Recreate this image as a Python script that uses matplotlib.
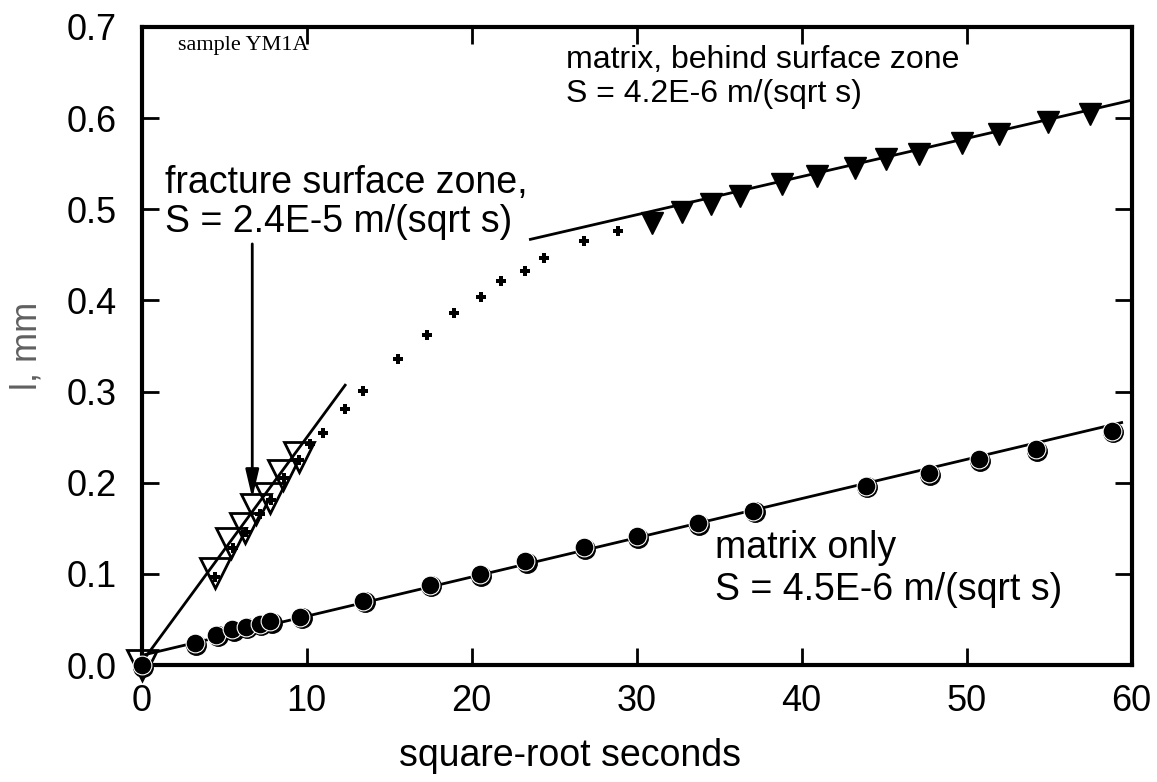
import matplotlib
matplotlib.use("Agg")
import matplotlib.pyplot as plt
import matplotlib.transforms as mtrans

plt.rcParams['font.family'] = ['Liberation Sans', 'DejaVu Sans']

# matrix only (filled circles)
circ_x = [0.0, 3.22, 4.53, 5.48, 6.3, 7.15, 7.8, 9.6, 13.43, 17.46, 20.5, 23.26, 26.8, 30.0, 33.7, 37.06, 43.9, 47.7, 50.75, 54.2, 58.8]
circ_y = [0.0, 0.024, 0.033, 0.039, 0.042, 0.045, 0.048, 0.053, 0.0706, 0.0878, 0.0995, 0.114, 0.129, 0.141, 0.1555, 0.169, 0.1965, 0.2104, 0.2258, 0.2368, 0.257]

# fracture surface zone (open down-triangles)
open_x = [0.0, 4.43, 5.4, 6.24, 6.95, 7.75, 8.56, 9.56]
open_y = [0.0, 0.1006, 0.1335, 0.150, 0.171, 0.183, 0.2085, 0.2287]

# matrix behind surface zone (filled down-triangles)
fill_x = [30.95, 32.73, 34.52, 36.27, 38.79, 40.93, 43.24, 45.13, 47.12, 49.75, 51.96, 54.96, 57.5]
fill_y = [0.4847, 0.497, 0.5057, 0.5145, 0.528, 0.536, 0.5458, 0.5553, 0.561, 0.573, 0.583, 0.5954, 0.605]

# all measurements (small plus)
plus_x = [0.0, 4.43, 5.54, 6.34, 7.15, 7.85, 8.6, 9.56, 10.23, 11.0, 12.33, 13.43, 15.55, 17.3, 18.9, 20.54,
          21.79, 23.26, 24.4, 26.83, 28.9] + fill_x
plus_y = [0.0, 0.097, 0.128, 0.146, 0.166, 0.181, 0.205, 0.225, 0.2426, 0.254, 0.2807, 0.301, 0.336, 0.3626,
          0.3857, 0.4036, 0.4208, 0.4328, 0.4464, 0.4647, 0.476] + fill_y

# fit lines (endpoints)
fit_frac_x = [0.0, 12.33]
fit_frac_y = [0.003, 0.307]
fit_behind_x = [23.56, 59.85]
fit_behind_y = [0.467, 0.619]
fit_matrix_x = [0.1, 59.4]
fit_matrix_y = [0.011, 0.266]

xticks = [0, 10, 20, 30, 40, 50, 60]
yticks = [0.0, 0.1, 0.2, 0.3, 0.4, 0.5, 0.6, 0.7]

fig = plt.figure(figsize=(11.57, 7.82), dpi=100)
ax = fig.add_axes([0.1225, 0.1496, 0.978 - 0.1225, 0.9655 - 0.1496])
ax.set_xlim(0, 60)
ax.set_ylim(0, 0.7)

lw_fit = 2.0
ax.plot(fit_frac_x, fit_frac_y, color='black', lw=lw_fit, zorder=2)
ax.plot(fit_behind_x, fit_behind_y, color='black', lw=lw_fit, zorder=2)
ax.plot(fit_matrix_x, fit_matrix_y, color='black', lw=lw_fit, zorder=2)

# plus markers
ax.plot(plus_x, plus_y, ls='none', marker='P', ms=6.5, color='black', mew=0, zorder=3, clip_on=False)

# open triangles
ax.plot(open_x, open_y, ls='none', marker='v', ms=21, mfc='none', mec='black', mew=2.0, zorder=4, clip_on=False)

# filled circles with shadow effect
shadow = mtrans.offset_copy(ax.transData, fig=fig, x=1.5, y=-1.5, units='dots')
ax.plot(circ_x, circ_y, ls='none', marker='o', ms=14, color='black', transform=shadow, zorder=5, clip_on=False)
ax.plot(circ_x, circ_y, ls='none', marker='o', ms=13.5, mfc='black', mec='white', mew=0.8, zorder=6, clip_on=False)

# filled triangles
ax.plot(fill_x, fill_y, ls='none', marker='v', ms=15.5, color='black', zorder=5, clip_on=False)

# arrow
ax.annotate('', xy=(6.7, 0.183), xytext=(6.7, 0.462),
            arrowprops=dict(arrowstyle='-|>,head_length=1.7,head_width=0.4', color='black', lw=2.0,
                            shrinkA=0, shrinkB=0))

fs = 26
fa = 27
ft = 23
ax.text(2.19, 0.68, 'sample YM1A', family=['Liberation Serif'], fontsize=16, va='center', ha='left')
ax.text(25.7, 0.664, 'matrix, behind surface zone', fontsize=ft, va='center', ha='left')
ax.text(25.7, 0.626, 'S = 4.2E-6 m/(sqrt s)', fontsize=ft, va='center', ha='left')
ax.text(1.41, 0.529, 'fracture surface zone,', fontsize=fa, va='center', ha='left')
ax.text(1.41, 0.486, 'S = 2.4E-5 m/(sqrt s)', fontsize=fa, va='center', ha='left')
ax.text(34.77, 0.128, 'matrix only', fontsize=fa, va='center', ha='left')
ax.text(34.77, 0.082, 'S = 4.5E-6 m/(sqrt s)', fontsize=fa, va='center', ha='left')

ax.set_xticks(xticks)
ax.set_yticks(yticks)
ax.set_xticklabels([str(v) for v in xticks])
ax.set_yticklabels(['%.1f' % v for v in yticks])
ax.tick_params(direction='in', length=12, width=2, labelsize=fs, top=True, right=True)
ax.tick_params(axis='y', pad=18)
ax.tick_params(axis='x', pad=14)
for sp in ax.spines.values():
    sp.set_linewidth(3)

ax.set_xlabel('square-root seconds', fontsize=fa)
ax.xaxis.set_label_coords(0.433, -0.115)
ax.set_ylabel('l, mm', fontsize=fs, color='#606060')
ax.yaxis.set_label_coords(-0.098, 0.5)

fig.savefig('out.png', dpi=100)
